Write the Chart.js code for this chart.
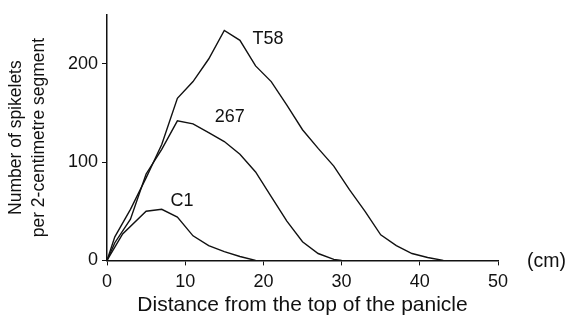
<!DOCTYPE html>
<html>
<head>
<meta charset="utf-8">
<script src="https://cdn.jsdelivr.net/npm/chart.js@4"></script>
<style>
  html, body { margin: 0; padding: 0; background: #fff; }
  #wrap { width: 567px; height: 322px; }
</style>
</head>
<body>
<div id="wrap"><canvas id="panicleChart"></canvas></div>
<script>
// distance from the top of the panicle (cm) and spikelets per 2-cm segment
const t58X = [0, 1, 3, 5, 7, 9, 11, 13, 15, 17, 19, 21, 23, 25, 27, 29, 31, 33, 35, 37, 39, 41, 43];
const t58Y = [0, 24, 52, 84, 118, 165, 182, 205, 234, 224, 198, 182, 158, 133, 114, 96, 72, 50, 26, 15, 7, 3, 0];

const l267X = [0, 1, 3, 5, 7, 9, 11, 13, 15, 17, 19, 21, 23, 25, 27, 29, 30];
const l267Y = [0, 18, 42, 88, 113, 142, 139, 130, 121, 108, 90, 65, 40, 19, 7, 1, 0];

const c1X = [0, 2, 5, 7, 9, 11, 13, 15, 17, 19];
const c1Y = [0, 27, 50, 52, 44, 25, 15, 9, 4, 0];

const seriesNames = ["T58", "267", "C1"];
const labelAt = [[20.6, 225], [15.7, 146], [9.6, 60]]; // where each name sits, in data units

const xTicks = [0, 10, 20, 30, 40, 50];
const yTicks = [0, 100, 200];

const font = "'Liberation Sans', Arial, Helvetica, sans-serif";

function pts(xs, ys) {
  return xs.map((x, i) => ({ x: x, y: ys[i] }));
}

const lineStyle = {
  borderColor: "#111",
  borderWidth: 1.4,
  pointRadius: 0,
  tension: 0,
  fill: false,
};

const curveLabels = {
  id: "curveLabels",
  afterDraw(chart) {
    const ctx = chart.ctx;
    const xs = chart.scales.x;
    const ys = chart.scales.y;
    ctx.save();
    ctx.fillStyle = "#111";
    ctx.font = "18px " + font;
    ctx.textAlign = "center";
    ctx.textBaseline = "middle";
    seriesNames.forEach((name, i) => {
      ctx.fillText(name, xs.getPixelForValue(labelAt[i][0]), ys.getPixelForValue(labelAt[i][1]));
    });
    // unit label to the right of the x axis
    ctx.font = "19.5px " + font;
    ctx.textAlign = "left";
    ctx.fillText("(cm)", chart.chartArea.right + 29, ys.getPixelForValue(0) + 1);
    ctx.restore();
  },
};

new Chart(document.getElementById("panicleChart"), {
  type: "line",
  data: {
    datasets: [
      { label: "T58", data: pts(t58X, t58Y), ...lineStyle },
      { label: "267", data: pts(l267X, l267Y), ...lineStyle },
      { label: "C1", data: pts(c1X, c1Y), ...lineStyle },
    ],
  },
  options: {
    responsive: true,
    maintainAspectRatio: false,
    animation: false,
    layout: { padding: { top: 13, right: 69, left: 0, bottom: 10 } },
    plugins: {
      legend: { display: false },
      tooltip: { enabled: false },
    },
    scales: {
      x: {
        type: "linear",
        min: 0,
        max: 50,
        afterBuildTicks: (axis) => {
          axis.ticks = xTicks.map((v) => ({ value: v }));
        },
        grid: { display: true, drawOnChartArea: false, tickLength: 5, color: "#111" },
        border: { color: "#111", width: 1.5 },
        ticks: { color: "#111", font: { family: font, size: 18, lineHeight: 1 }, padding: 8, maxRotation: 0 },
        title: {
          display: true,
          text: "Distance from the top of the panicle",
          color: "#111",
          font: { family: font, size: 21, lineHeight: 0.6 },
          padding: { top: 0, bottom: 0 },
        },
      },
      y: {
        min: 0,
        max: 250,
        afterBuildTicks: (axis) => {
          axis.ticks = yTicks.map((v) => ({ value: v }));
        },
        afterFit: (axis) => {
          axis.width = 107;
        },
        grid: { display: true, drawOnChartArea: false, tickLength: 5, color: "#111" },
        border: { color: "#111", width: 1.5 },
        ticks: { color: "#111", font: { family: font, size: 18 }, padding: 4 },
        title: {
          display: true,
          text: ["Number of spikelets", "per 2-centimetre segment"],
          color: "#111",
          font: { family: font, size: 17.5, lineHeight: 1.3 },
          padding: { top: 5, bottom: 0 },
        },
      },
    },
  },
  plugins: [curveLabels],
});
</script>
</body>
</html>
